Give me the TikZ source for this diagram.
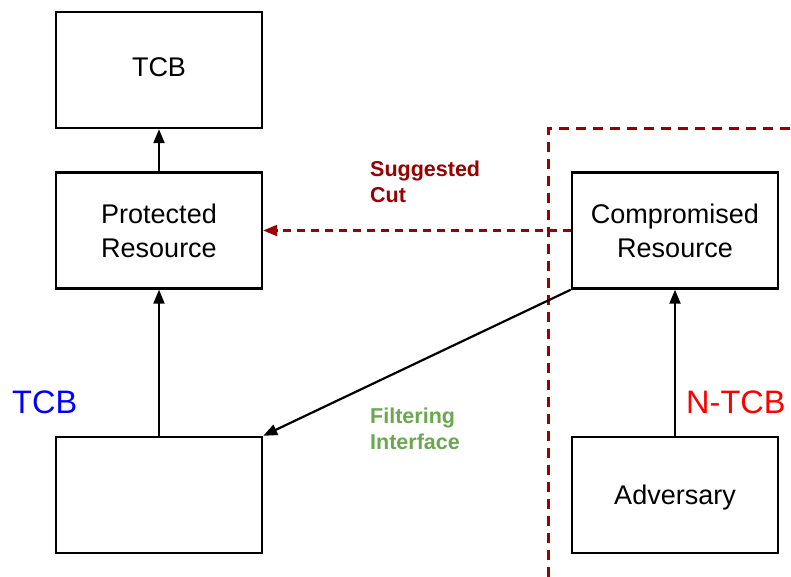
\documentclass[tikz,border=0pt]{standalone}
\usepackage{fontspec}
\setmainfont{Liberation Sans}
\usetikzlibrary{arrows.meta}
\definecolor{cutred}{HTML}{990000}
\definecolor{filtergreen}{HTML}{6AA84F}
\begin{document}
\begin{tikzpicture}[x=1pt,y=-1pt,
  block/.style={draw=black,line width=2.4pt,fill=white,minimum width=206pt,minimum height=116pt,
    align=center,inner sep=0pt,font=\fontsize{27}{34}\selectfont},
  link/.style={line width=2.2pt,-{Triangle[length=14pt,width=11pt]}},
  cutlink/.style={draw=cutred,line width=2.2pt,dash pattern=on 8pt off 6pt,
    -{Triangle[length=14pt,width=11pt]}},
  border/.style={draw=cutred,line width=3pt,dash pattern=on 10pt off 7pt},
  side/.style={font=\fontsize{32.5}{38}\selectfont,anchor=base west,inner sep=0pt},
  note/.style={font=\fontsize{21.5}{26}\selectfont\bfseries,align=left,anchor=north west,inner sep=0pt}]
  \useasboundingbox (0,0) rectangle (791,577);

  % boundary of the untrusted side
  \coordinate (bb) at (548,577);
  \coordinate (bc) at (548,129);
  \coordinate (br) at (791,129);
  \draw[border] (bb) -- (bc) -- (br);

  % boxes
  \node[block] (tcb) at (159,70) {\raisebox{5pt}{TCB}};
  \node[block] (prot) at (159,230.5) {Protected\\Resource};
  \node[block] (filt) at (159,495) {};
  \node[block] (comp) at (675,230.5) {Compromised\\Resource};
  \node[block,text depth=0pt] (adv) at (675,495) {Adversary};

  % connectors
  \draw[link] (prot.north) -- (tcb.south);
  \draw[link] (filt.north) -- (prot.south);
  \draw[link] (adv.north) -- (comp.south);
  \draw[link] (comp.south west) -- (filt.north east);
  \draw[cutlink] (comp.west) -- (prot.east);

  % labels
  \node[side,text=blue] (ltcb) at (12,413) {TCB};
  \node[side,text=red] (lntcb) at (686,413) {N-TCB};
  \node[note,text=cutred] (lcut) at (370,160.5) {Suggested\\Cut};
  \node[note,text=filtergreen] (lfilt) at (370,407.5) {Filtering\\Interface};
\end{tikzpicture}
\end{document}
